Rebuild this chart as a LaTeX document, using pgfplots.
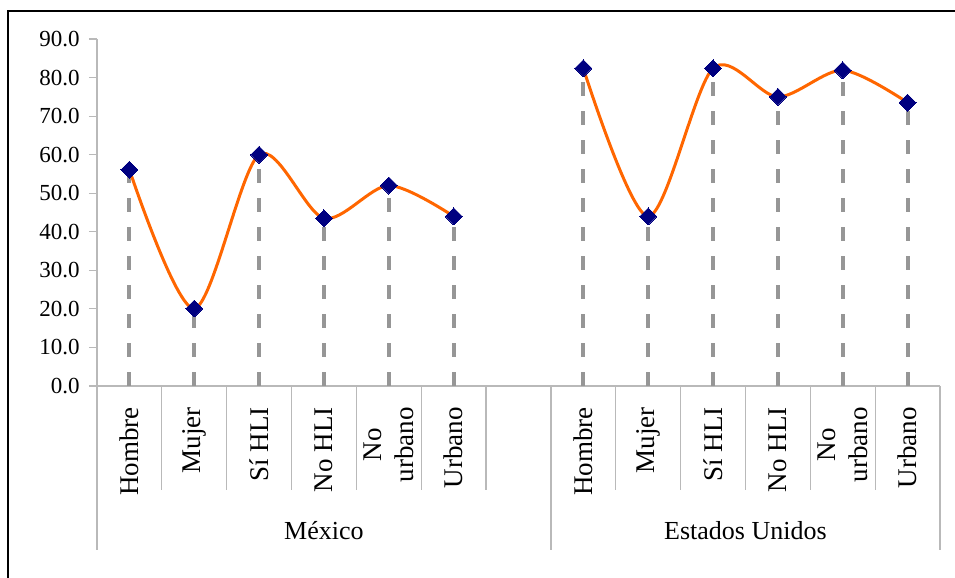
\documentclass[border=0pt]{standalone}
\usepackage{fontspec}
\setmainfont{Liberation Serif}
\usepackage{pgfplots}
\pgfplotsset{compat=1.18}
\definecolor{lineorange}{RGB}{255,102,0}
\definecolor{marknavy}{RGB}{0,0,128}
\definecolor{dropgray}{RGB}{150,150,150}
\definecolor{axisgray}{RGB}{185,185,185}

\begin{document}
\begin{tikzpicture}[x=1pt,y=1pt]
% 1px = 0.5pt; axis origin at pixel (97,386)
\path[use as bounding box] (-48.5,-96) rectangle (429,193);
\draw[line width=1pt] (-44.5,-96) -- (-44.5,187.5) -- (429,187.5);
\begin{axis}[
  at={(0pt,0pt)}, anchor=south west,
  scale only axis, width=421.5pt, height=173.5pt,
  xmin=-0.5, xmax=12.5, ymin=0, ymax=90,
  axis x line*=bottom, axis y line*=left,
  axis line style={axisgray, line width=0.6pt},
  clip=false,
  tick align=outside, major tick length=4pt,
  xtick={0,1,2,3,4,5,7,8,9,10,11,12},
  xticklabels={Hombre,Mujer,Sí HLI,No HLI,{No\\urbano},Urbano,
               Hombre,Mujer,Sí HLI,No HLI,{No\\urbano},Urbano},
  xtick style={draw=none},
  xticklabel style={rotate=90, anchor=east, align=center, inner sep=0pt,
                    font=\fontsize{13.5}{16}\selectfont},
  ytick={0,10,...,90},
  ytick style={axisgray, line width=0.6pt},
  /pgf/number format/assume math mode=true,
  yticklabel style={/pgf/number format/fixed, /pgf/number format/fixed zerofill,
                    /pgf/number format/precision=1, inner sep=0pt,
                    font=\fontsize{11.5}{13}\selectfont},
  yticklabel shift=4.5pt,
  xticklabel shift=6.5pt,
]
% drop lines
\addplot[ycomb, dropgray, line width=2pt, dash pattern=on 7pt off 7.5pt, forget plot]
  coordinates {(0,56.1) (1,20.1) (2,60.0) (3,43.5) (4,52.0) (5,44.0)
               (7,82.4) (8,44.0) (9,82.4) (10,75.0) (11,81.9) (12,73.5)};
% México
\addplot[lineorange, line width=1.5pt, smooth, mark=square*, mark size=3pt,
  mark options={solid, fill=marknavy, draw=marknavy, rotate=45, line width=0pt}]
  coordinates {(0,56.1) (1,20.1) (2,60.0) (3,43.5) (4,52.0) (5,44.0)};
% Estados Unidos
\addplot[lineorange, line width=1.5pt, smooth, mark=square*, mark size=3pt,
  mark options={solid, fill=marknavy, draw=marknavy, rotate=45, line width=0pt}]
  coordinates {(7,82.4) (8,44.0) (9,82.4) (10,75.0) (11,81.9) (12,73.5)};
% category separators
\draw[axisgray, line width=0.6pt]
  (axis cs:-0.5,0) -- ++(0pt,-82pt)
  (axis cs:0.5,0) -- ++(0pt,-52pt)
  (axis cs:1.5,0) -- ++(0pt,-52pt)
  (axis cs:2.5,0) -- ++(0pt,-52pt)
  (axis cs:3.5,0) -- ++(0pt,-52pt)
  (axis cs:4.5,0) -- ++(0pt,-52pt)
  (axis cs:5.5,0) -- ++(0pt,-52pt)
  (axis cs:6.5,0) -- ++(0pt,-82pt)
  (axis cs:7.5,0) -- ++(0pt,-52pt)
  (axis cs:8.5,0) -- ++(0pt,-52pt)
  (axis cs:9.5,0) -- ++(0pt,-52pt)
  (axis cs:10.5,0) -- ++(0pt,-52pt)
  (axis cs:11.5,0) -- ++(0pt,-52pt)
  (axis cs:12.5,0) -- ++(0pt,-82pt);
\node[anchor=base, font=\fontsize{13}{16}\selectfont] at ([yshift=-77pt]axis cs:3,0) {México};
\node[anchor=base, font=\fontsize{13}{16}\selectfont] at ([yshift=-77pt]axis cs:9.5,0) {Estados Unidos};
\end{axis}
\end{tikzpicture}
\end{document}
